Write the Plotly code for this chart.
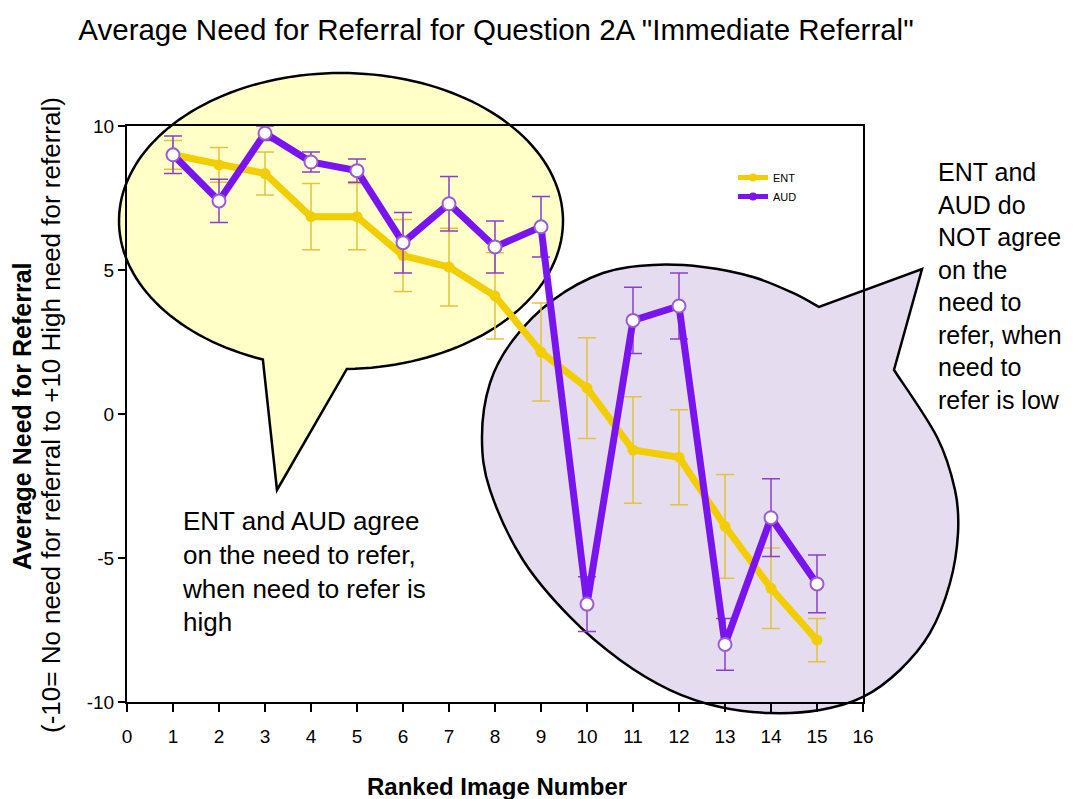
import numpy as np
import plotly.graph_objects as go

# ---- data ----
image_number = list(range(1, 16))
ent_mean = [9.0, 8.65, 8.35, 6.85, 6.85, 5.5, 5.1, 4.1, 2.15, 0.9, -1.25, -1.5, -3.9, -6.05, -7.85]
ent_err = [0.5, 0.6, 0.75, 1.15, 1.15, 1.25, 1.35, 1.5, 1.7, 1.75, 1.85, 1.65, 1.8, 1.4, 0.75]
aud_mean = [9.0, 7.4, 9.75, 8.75, 8.45, 5.95, 7.3, 5.8, 6.5, -6.6, 3.25, 3.75, -8.0, -3.6, -5.9]
aud_err = [0.65, 0.75, 0.25, 0.35, 0.4, 1.05, 0.95, 0.9, 1.05, 0.95, 1.15, 1.15, 0.9, 1.35, 1.0]
x_ticks = list(range(0, 17))
y_ticks = [-10, -5, 0, 5, 10]
y_tick_text = ["-10", "-5", "0", "5", "10"]

ENT_COLOR = "#f2cd00"
ENT_ERR = "#e3c23c"
AUD_COLOR = "#7a14ee"
AUD_ERR = "#8a3fc8"

# page is shifted by the 8px body margin, so the figure is a bit smaller
OFF = 8
W, H = 1073 - OFF, 799 - OFF
PLOT_X0, PLOT_Y0, PLOT_X1, PLOT_Y1 = 127, 126, 863, 702  # plot area in screenshot pixels
PW, PH = PLOT_X1 - PLOT_X0, PLOT_Y1 - PLOT_Y0
L, T = PLOT_X0 - OFF, PLOT_Y0 - OFF
R, B = W - L - PW, H - T - PH

SANS = "Liberation Sans, Arial, sans-serif"

# outline of the purple callout (screenshot pixels), from the tail's inner corner round to the notch
purple_outline = [
    (894, 370), (937, 437), (955, 490), (958, 533), (950, 583), (930, 633), (900, 670),
    (863, 697), (820, 710), (770, 713), (720, 707), (670, 690), (620, 660), (570, 617),
    (523, 560), (490, 490), (482, 437), (490, 383), (513, 340), (553, 300), (603, 273),
    (653, 265), (703, 267), (753, 277), (793, 293), (819, 307),
]
purple_tip = (922, 269)


def to_paper(px, py):
    return (px - PLOT_X0) / PW, (PLOT_Y1 - py) / PH


def fmt(p):
    x, y = to_paper(*p)
    return f"{x:.4f},{y:.4f}"


def ellipse_callout(cx, cy, a, b, gap_from, gap_to, tip):
    ts = np.radians(np.linspace(gap_to, gap_from + 360, 160))
    pts = [(cx + a * np.cos(t), cy + b * np.sin(t)) for t in ts]
    pts.append(tip)
    return "M " + " L ".join(fmt(p) for p in pts) + " Z"


def smooth_callout(points, tip):
    pts = [np.array(p, dtype=float) for p in points]
    n = len(pts)
    path = "M " + fmt(pts[0])
    for i in range(n - 1):
        p0, p1, p2, p3 = pts[max(i - 1, 0)], pts[i], pts[i + 1], pts[min(i + 2, n - 1)]
        c1 = p1 + (p2 - p0) / 6
        c2 = p2 - (p3 - p1) / 6
        path += f" C {fmt(c1)} {fmt(c2)} {fmt(p2)}"
    path += f" L {fmt(tip)} L {fmt(pts[0])} Z"
    return path


fig = go.Figure()

fig.add_trace(
    go.Scatter(
        x=image_number,
        y=ent_mean,
        mode="lines+markers",
        line={"color": ENT_COLOR, "width": 7},
        marker={"color": ENT_COLOR, "size": 11},
        error_y={"type": "data", "array": ent_err, "color": ENT_ERR, "thickness": 1.5, "width": 9},
        showlegend=False,
    )
)
fig.add_trace(
    go.Scatter(
        x=image_number,
        y=aud_mean,
        mode="lines+markers",
        line={"color": AUD_COLOR, "width": 7},
        marker={"color": "white", "size": 13, "line": {"color": "#9b5bd2", "width": 2}},
        error_y={"type": "data", "array": aud_err, "color": AUD_ERR, "thickness": 1.5, "width": 9},
        showlegend=False,
    )
)

# legend-only entries (filled markers, as in the reference legend)
for name, color in (("ENT", ENT_COLOR), ("AUD", AUD_COLOR)):
    fig.add_trace(
        go.Scatter(
            x=[None],
            y=[None],
            mode="lines+markers",
            name=name,
            line={"color": color, "width": 5},
            marker={"color": color, "size": 8},
        )
    )

shapes = [
    {
        "type": "path",
        "xref": "paper",
        "yref": "paper",
        "path": smooth_callout(purple_outline, purple_tip),
        "fillcolor": "#e6dcf0",
        "line": {"color": "black", "width": 2.5},
        "layer": "below",
    },
    {
        "type": "path",
        "xref": "paper",
        "yref": "paper",
        "path": ellipse_callout(341, 221, 222, 148, 88.5, 110.6, (277, 490)),
        "fillcolor": "#ffffc8",
        "line": {"color": "black", "width": 2.5},
        "layer": "below",
    },
]


def text_note(px, py, text, size, bold=False, angle=0, xanchor="left", yanchor="top"):
    x, y = to_paper(px, py)
    return {
        "xref": "paper", "yref": "paper", "x": x, "y": y,
        "xanchor": xanchor, "yanchor": yanchor, "align": "left",
        "showarrow": False, "textangle": angle,
        "text": f"<b>{text}</b>" if bold else text,
        "font": {"family": SANS, "size": size, "color": "black"},
    }


annotations = [
    text_note(180, 504, "ENT and AUD agree<br>on the need to refer,<br>when need to refer is<br>high", 26),
    text_note(936, 156, "ENT and<br>AUD do<br>NOT agree<br>on the<br>need to<br>refer, when<br>need to<br>refer is low", 25),
    text_note(22, 416, "Average Need for Referral", 25, bold=True, angle=-90, xanchor="center", yanchor="middle"),
    text_note(51, 415, "(-10= No need for referral to +10 High need for referral)", 26, angle=-90,
              xanchor="center", yanchor="middle"),
    text_note(497, 786, "Ranked Image Number", 24, bold=True, xanchor="center", yanchor="middle"),
]

lx, ly = to_paper(733, 163)
fig.update_layout(
    width=W,
    height=H,
    margin={"l": L, "r": R, "t": T, "b": B, "autoexpand": False},
    paper_bgcolor="white",
    plot_bgcolor="white",
    title={
        "text": 'Average Need for Referral for Question 2A "Immediate Referral"',
        "x": (496 - OFF) / W,
        "xanchor": "center",
        "y": 1 - (30 - OFF) / H,
        "yanchor": "middle",
        "font": {"family": SANS, "size": 29.5, "color": "black"},
    },
    xaxis={
        "range": [0, 16],
        "tickvals": x_ticks,
        "ticks": "outside",
        "ticklen": 8,
        "tickwidth": 2,
        "tickcolor": "black",
        "ticklabelstandoff": 8,
        "showline": True,
        "linewidth": 2,
        "linecolor": "black",
        "mirror": True,
        "showgrid": False,
        "zeroline": False,
        "tickfont": {"family": SANS, "size": 19, "color": "black"},
    },
    yaxis={
        "range": [-10, 10],
        "tickvals": y_ticks,
        "ticktext": y_tick_text,
        "ticks": "outside",
        "ticklen": 7,
        "tickwidth": 2,
        "tickcolor": "black",
        "showline": True,
        "linewidth": 2,
        "linecolor": "black",
        "mirror": True,
        "showgrid": False,
        "zeroline": False,
        "tickfont": {"family": SANS, "size": 19, "color": "black"},
    },
    legend={
        "x": lx,
        "y": ly,
        "xanchor": "left",
        "yanchor": "top",
        "bgcolor": "rgba(255,255,255,0)",
        "font": {"family": SANS, "size": 11, "color": "black"},
        "itemwidth": 30,
        "tracegroupgap": 0,
    },
    shapes=shapes,
    annotations=annotations,
)

fig.write_html("out.html")
